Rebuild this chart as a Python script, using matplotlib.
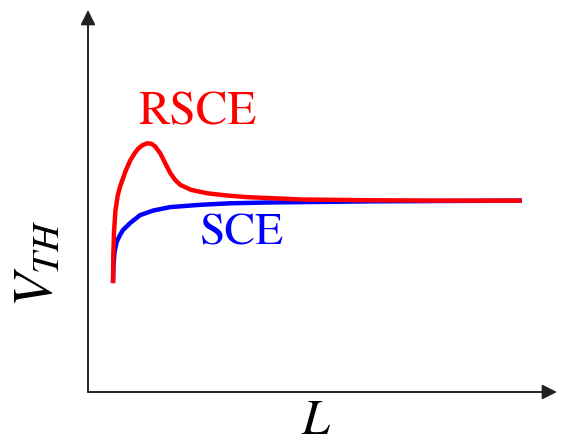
import matplotlib
matplotlib.use("Agg")
import matplotlib.pyplot as plt

plt.rcParams['font.family'] = ['STIXGeneral', 'DejaVu Serif']
plt.rcParams['mathtext.fontset'] = 'stix'

# channel length L (arbitrary units) and threshold voltage V_TH (arbitrary units)
sce_L = [5.33, 5.44, 5.65, 6.12, 6.82, 7.46, 8.96, 11.1, 13.9, 17.5, 23.9, 30.3, 38.0, 45.2, 60.0, 75.0, 92.5]
sce_V = [28.5, 33.2, 36.6, 39.3, 41.1, 42.4, 44.2, 46.3, 47.5, 48.4, 49.0, 49.4, 49.6, 49.7, 49.9, 50.0, 50.1]

rsce_L = [5.33, 5.4, 5.55, 5.85, 6.35, 6.85, 8.0, 9.0, 10.0, 10.7, 11.6, 12.6, 13.5, 14.3, 15.4, 16.5, 17.6,
          18.6, 19.7, 22.0, 25.5, 30.0, 34.0, 40.0, 45.4, 60.0, 75.0, 92.5]
rsce_V = [28.5, 36.0, 42.0, 47.5, 51.5, 53.8, 57.8, 60.6, 62.6, 63.7, 64.6, 65.1, 65.0, 64.3, 62.5, 59.8, 57.2,
          55.5, 54.2, 52.9, 52.0, 51.4, 51.0, 50.7, 50.4, 50.2, 50.1, 50.1]

fig = plt.figure(figsize=(5.61, 4.48), dpi=100)
ax = fig.add_axes([88 / 561, (448 - 392) / 448, (557 - 88) / 561, (392 - 10) / 448])
ax.set_xlim(0, 100)
ax.set_ylim(0, 100)
ax.axis('off')

# axes drawn as arrows
ax.annotate('', xy=(0, 1), xytext=(0, 0), xycoords='axes fraction',
            arrowprops=dict(arrowstyle='-|>', lw=1.4, color='#222222', mutation_scale=22,
                            shrinkA=0, shrinkB=0))
ax.annotate('', xy=(1, 0), xytext=(0, 0), xycoords='axes fraction',
            arrowprops=dict(arrowstyle='-|>', lw=1.4, color='#222222', mutation_scale=22,
                            shrinkA=0, shrinkB=0))

ax.plot(sce_L, sce_V, color='#0000ff', lw=3.2, solid_capstyle='butt')
ax.plot(rsce_L, rsce_V, color='#ff0000', lw=3.2, solid_capstyle='butt')

ax.text((197 - 88) / 4.69, (392 - 113) / 3.82, 'RSCE', color='#ff0000', fontsize=34,
        ha='center', va='center')
ax.text((241 - 88) / 4.69, (392 - 234) / 3.82, 'SCE', color='#0000ff', fontsize=33,
        ha='center', va='center')

fig.text(39 / 561, 1 - 263 / 448, r'$V_{TH}$', fontsize=40, rotation=90, ha='center', va='center')
fig.text(316 / 561, 1 - 422 / 448, r'$L$', fontsize=36, ha='center', va='center')

fig.savefig('out.png', dpi=100)
